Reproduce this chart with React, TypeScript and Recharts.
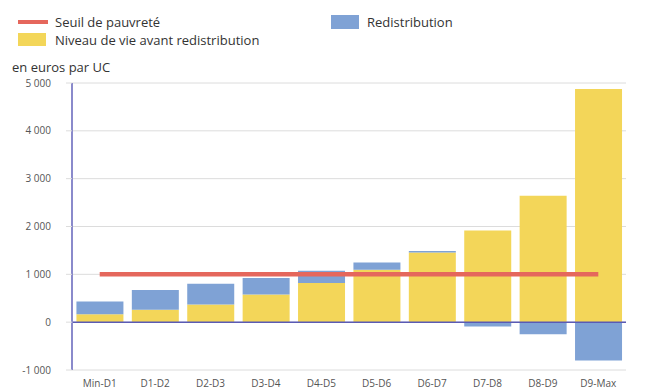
import { ComposedChart, Bar, Line, XAxis, YAxis, CartesianGrid, ReferenceLine } from "recharts";

const categories = ["Min-D1", "D1-D2", "D2-D3", "D3-D4", "D4-D5", "D5-D6", "D6-D7", "D7-D8", "D8-D9", "D9-Max"];
const niveauAvant = [165, 262, 368, 580, 820, 1095, 1455, 1915, 2645, 4875];
const redistribution = [265, 410, 435, 345, 255, 150, 35, -90, -255, -800];
const seuil = [1000, 1000, 1000, 1000, 1000, 1000, 1000, 1000, 1000, 1000];
const yTicks = [-1000, 0, 1000, 2000, 3000, 4000, 5000];

const YELLOW = "#f3d659";
const BLUE = "#7fa2d5";
const RED = "#e5675c";

const fmt = (v: number) => v.toLocaleString("fr-FR").replace(/\u202f|\u00a0/g, " ");

export default function App() {
  const rows = categories.map((c, i) => ({ c, avant: niveauAvant[i], redis: redistribution[i], seuil: seuil[i] }));
  const font = "'Open Sans', sans-serif";
  return (
    <div style={{ position: "absolute", left: 0, top: 0, width: 653, height: 391, background: "#fff", fontFamily: font }}>
      <div style={{ position: "absolute", left: 18, top: 20, width: 30, height: 4, background: RED }} />
      <div style={{ position: "absolute", left: 55, top: 13, fontSize: 13, color: "#333" }}>Seuil de pauvreté</div>
      <div style={{ position: "absolute", left: 18, top: 33, width: 28, height: 13, background: YELLOW }} />
      <div style={{ position: "absolute", left: 55, top: 31, fontSize: 13, color: "#333" }}>Niveau de vie avant redistribution</div>
      <div style={{ position: "absolute", left: 331, top: 15, width: 28, height: 14, background: BLUE }} />
      <div style={{ position: "absolute", left: 367, top: 13, fontSize: 13, color: "#333" }}>Redistribution</div>
      <div style={{ position: "absolute", left: 12, top: 58, fontSize: 13, color: "#333" }}>en euros par UC</div>
      <ComposedChart
        width={653}
        height={391}
        data={rows}
        stackOffset="sign"
        barCategoryGap="8%"
        margin={{ top: 83, right: 27, bottom: 0, left: 0 }}
        style={{ position: "absolute", left: 0, top: 0 }}
      >
        <CartesianGrid vertical={false} stroke="#dcdcdc" />
        <XAxis
          dataKey="c"
          axisLine={false}
          tickLine={false}
          height={21}
          tick={{ fontSize: 10, fill: "#555", fontFamily: font }}
          tickMargin={4}
        />
        <YAxis
          domain={[-1000, 5000]}
          ticks={yTicks}
          width={72}
          tickFormatter={fmt}
          tick={{ fontSize: 10, fill: "#555", fontFamily: font }}
          axisLine={{ stroke: "#8a8acb", strokeWidth: 2 }}
          tickLine={{ stroke: "#dcdcdc" }}
          tickSize={6}
          tickMargin={15}
        />
        <Bar dataKey="avant" stackId="a" fill={YELLOW} isAnimationActive={false} />
        <Bar dataKey="redis" stackId="a" fill={BLUE} isAnimationActive={false} />
        <ReferenceLine y={0} stroke="#5a5ab4" strokeWidth={1.5} />
        <Line dataKey="seuil" stroke={RED} strokeWidth={4.5} dot={false} isAnimationActive={false} />
      </ComposedChart>
    </div>
  );
}
